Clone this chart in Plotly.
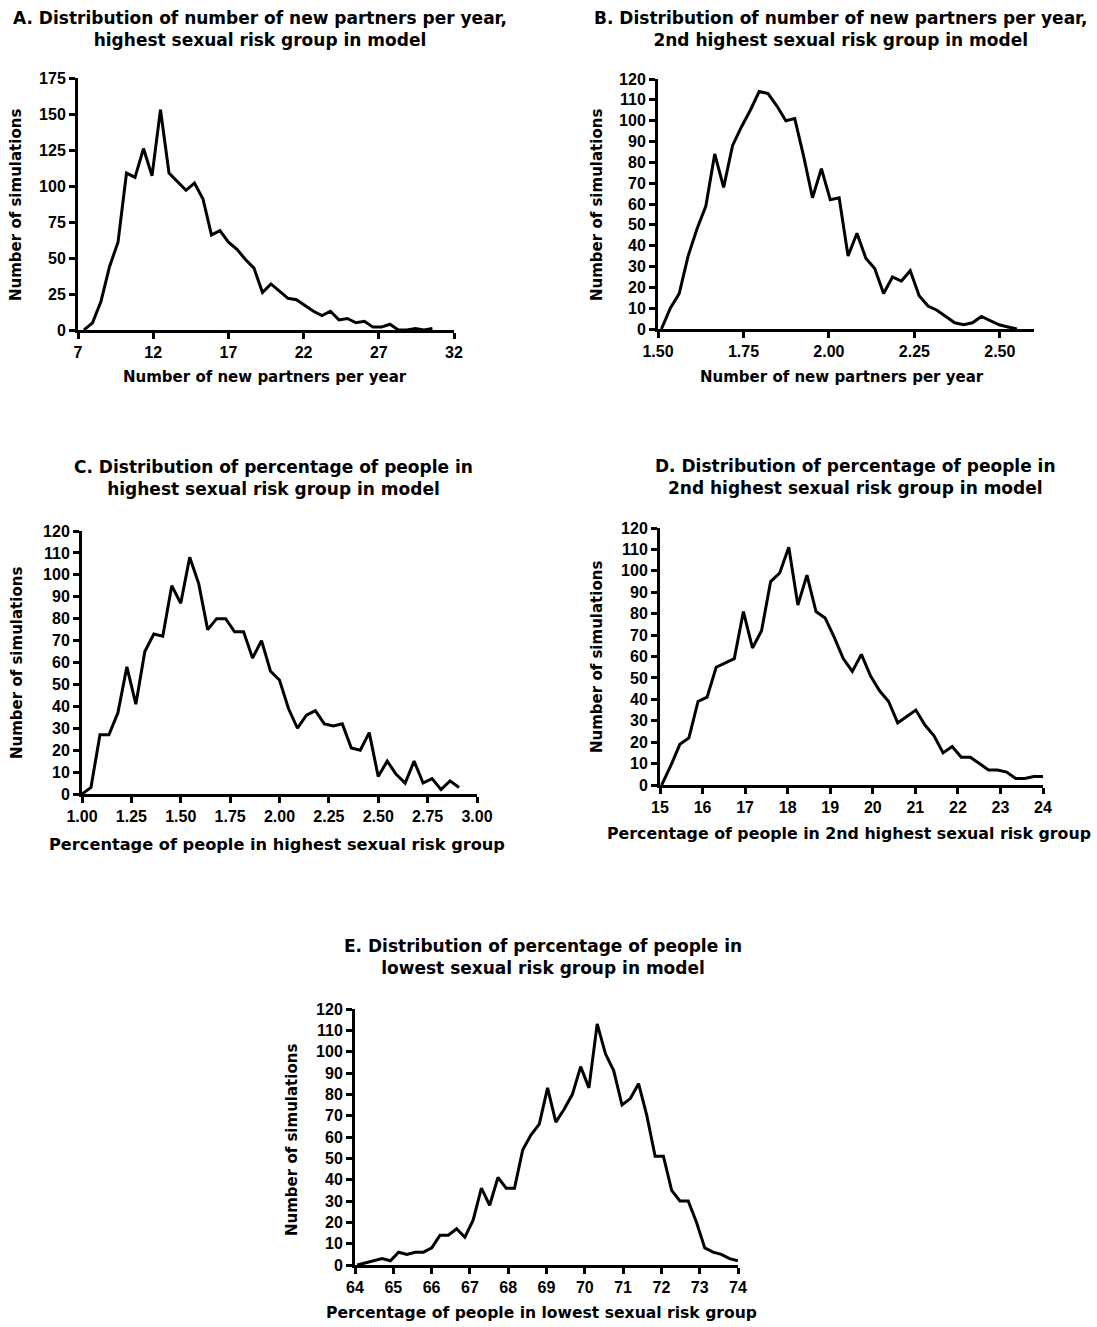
import plotly.graph_objects as go

W, H = 1097, 1327

# ---------------- data ----------------
# Panel A: number of new partners per year, highest risk group
a_x0, a_step = 7.4, 0.565
a_y = [0, 5, 20, 44, 61, 109, 106, 126, 107, 153, 109, 103, 97, 102, 91, 66, 69, 61, 56, 49,
       43, 26, 32, 27, 22, 21, 17, 13, 10, 13, 7, 8, 5, 6, 2, 2, 4, 0, 0, 1, 0, 1]
a_x = [round(a_x0 + a_step * i, 4) for i in range(len(a_y))]

# Panel B: number of new partners per year, 2nd highest risk group
b_x0, b_step = 1.51, 0.026
b_y = [0, 10, 17, 35, 48, 59, 84, 68, 88, 97, 105, 114, 113, 107, 100, 101, 83, 63, 77, 62,
       63, 35, 46, 34, 29, 17, 25, 23, 28, 16, 11, 9, 6, 3, 2, 3, 6, 4, 2, 1, 0]
b_x = [round(b_x0 + b_step * i, 4) for i in range(len(b_y))]

# Panel C: percentage of people in highest risk group
c_x0, c_step = 1.0, 0.04545
c_y = [0, 3, 27, 27, 37, 58, 41, 65, 73, 72, 95, 87, 108, 96, 75, 80, 80, 74, 74, 62,
       70, 56, 52, 39, 30, 36, 38, 32, 31, 32, 21, 20, 28, 8, 15, 9, 5, 15, 5, 7, 2, 6, 3]
c_x = [round(c_x0 + c_step * i, 4) for i in range(len(c_y))]

# Panel D: percentage of people in 2nd highest risk group
d_x0, d_step = 15.04, 0.2133
d_y = [0, 9, 19, 22, 39, 41, 55, 57, 59, 81, 64, 72, 95, 99, 111, 84, 98, 81, 78, 69,
       59, 53, 61, 51, 44, 39, 29, 32, 35, 28, 23, 15, 18, 13, 13, 10, 7, 7, 6, 3, 3, 4, 4]
d_x = [round(d_x0 + d_step * i, 4) for i in range(len(d_y))]

# Panel E: percentage of people in lowest risk group
e_x0, e_step = 64.06, 0.216
e_y = [0, 1, 2, 3, 2, 6, 5, 6, 6, 8, 14, 14, 17, 13, 21, 36, 28, 41, 36, 36,
       54, 61, 66, 83, 67, 73, 80, 93, 83, 113, 99, 91, 75, 78, 85, 70, 51, 51, 35, 30,
       30, 20, 8, 6, 5, 3, 2]
e_x = [round(e_x0 + e_step * i, 4) for i in range(len(e_y))]

titles = [
    "A. Distribution of number of new partners per year,<br>highest sexual risk group in model",
    "B. Distribution of number of new partners per year,<br>2nd highest sexual risk group in model",
    "C. Distribution of percentage of people in<br>highest sexual risk group in model",
    "D. Distribution of percentage of people in<br>2nd highest sexual risk group in model",
    "E. Distribution of percentage of people in<br>lowest sexual risk group in model",
]
x_titles = [
    "Number of new partners per year",
    "Number of new partners per year",
    "Percentage of people in highest sexual risk group",
    "Percentage of people in 2nd highest sexual risk group",
    "Percentage of people in lowest sexual risk group",
]
y_title = "Number of simulations"

# ---------------- layout geometry (pixels) ----------------
panels = [
    # xs, ys, left, right, top, bottom, xrange, xdtick, xfmt, yrange, ydtick,
    # title cx, title y, xtitle cx, xtitle y, xtitle size, ytitle x, ytitle cy
    (a_x, a_y, 78, 454, 78, 330, [7, 32], 5, None, [0, 175], 25, 260, 29, 265, 377, 15, 16, 205),
    (b_x, b_y, 658, 1034, 79, 329, [1.5, 2.6], 0.25, ".2f", [0, 120], 10, 840, 29, 842, 377, 15, 597, 205),
    (c_x, c_y, 82, 477, 531, 794, [1, 3], 0.25, ".2f", [0, 120], 10, 273, 478, 277, 844, 16.2, 17, 663),
    (d_x, d_y, 660, 1043, 528, 785, [15, 24], 1, None, [0, 120], 10, 855, 477, 849, 833, 15.8, 597, 657),
    (e_x, e_y, 355, 738, 1009, 1265, [64, 74], 1, None, [0, 120], 10, 543, 957, 541, 1313, 15.6, 292, 1140),
]

TICKFONT = "Arial, 'Liberation Sans', sans-serif"
TEXTFONT = "'DejaVu Sans', Verdana, sans-serif"
fig = go.Figure()
annotations = []

for k, (xs, ys, xl, xr, yt, yb, xrng, xd, xf, yrng, yd, tcx, ty, xtcx, xty, xts, ytx, ytcy) in enumerate(panels):
    n = "" if k == 0 else str(k + 1)
    fig.add_trace(go.Scatter(
        x=xs, y=ys, mode="lines",
        line=dict(color="black", width=3),
        xaxis="x" + n, yaxis="y" + n, showlegend=False, hoverinfo="skip",
    ))
    common = dict(
        showline=True, linecolor="black", linewidth=3, mirror=False,
        ticks="outside", ticklen=6, tickwidth=2.5, tickcolor="black",
        showgrid=False, zeroline=False, automargin=False,
        tickfont=dict(family=TICKFONT, size=16, color="black", weight="bold"),
    )
    xa = dict(common, domain=[xl / W, xr / W], range=xrng, dtick=xd, tick0=xrng[0],
              anchor="y" + n)
    if xf:
        xa["tickformat"] = xf
    ya = dict(common, domain=[1 - yb / H, 1 - yt / H], range=yrng, dtick=yd, tick0=0,
              anchor="x" + n)
    fig.update_layout(**{"xaxis" + n: xa, "yaxis" + n: ya})

    annotations.append(dict(
        text=titles[k], x=tcx / W, y=1 - ty / H, xref="paper", yref="paper",
        showarrow=False, xanchor="center", yanchor="middle",
        font=dict(family=TEXTFONT, size=17, color="black", weight="bold"), align="center",
    ))
    annotations.append(dict(
        text=x_titles[k], x=xtcx / W, y=1 - xty / H, xref="paper", yref="paper",
        showarrow=False, xanchor="center", yanchor="middle",
        font=dict(family=TEXTFONT, size=xts, color="black", weight="bold"),
    ))
    annotations.append(dict(
        text=y_title, x=ytx / W, y=1 - ytcy / H, xref="paper", yref="paper",
        showarrow=False, xanchor="center", yanchor="middle", textangle=-90,
        font=dict(family=TEXTFONT, size=15, color="black", weight="bold"),
    ))

fig.update_layout(
    width=W, height=H,
    margin=dict(l=0, r=0, t=0, b=0, pad=0, autoexpand=False),
    paper_bgcolor="white", plot_bgcolor="white",
    annotations=annotations,
    showlegend=False,
)

fig.write_html("out.html", config={"displayModeBar": False})
